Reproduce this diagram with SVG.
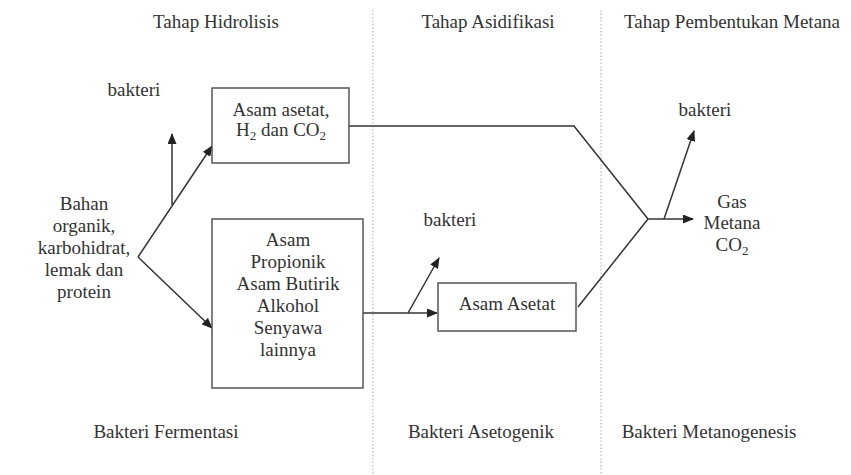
<svg xmlns="http://www.w3.org/2000/svg" width="851" height="475" viewBox="0 0 851 475">
<defs>
<style>
text{font-family:"Liberation Serif","Times New Roman",serif;font-size:19px;fill:#333;text-anchor:middle}
.sub{font-size:13px}
.box{fill:#fff;stroke:#555;stroke-width:1.5}
.ln{fill:none;stroke:#333;stroke-width:1.5}
.div{stroke:#bbb;stroke-width:1.2;stroke-dasharray:1.5 2}
</style>
<marker id="ah" markerUnits="userSpaceOnUse" markerWidth="11" markerHeight="9" refX="10" refY="4.5" orient="auto">
<path d="M0,0 L11,4.5 L0,9 z" fill="#222"/>
</marker>
</defs>
<rect width="851" height="475" fill="#fff"/>
<g id="dividers">
<line class="div" x1="373" y1="10" x2="373" y2="475"/>
<line class="div" x1="601" y1="10" x2="601" y2="475"/>
</g>
<g id="titles">
<text x="216" y="28">Tahap Hidrolisis</text>
<text x="488" y="28">Tahap Asidifikasi</text>
<text x="732" y="28">Tahap Pembentukan Metana</text>
<text x="166" y="438">Bakteri Fermentasi</text>
<text x="481" y="438">Bakteri Asetogenik</text>
<text x="709" y="438">Bakteri Metanogenesis</text>
</g>
<g id="connectors">
<path class="ln" d="M172,205 L172,134" marker-end="url(#ah)"/>
<path class="ln" d="M138,257 L212,146" marker-end="url(#ah)"/>
<path class="ln" d="M138,257 L212,328" marker-end="url(#ah)"/>
<path class="ln" d="M363,313 L437,313" marker-end="url(#ah)"/>
<path class="ln" d="M408,313 L439,258" marker-end="url(#ah)"/>
<path class="ln" d="M349,126 L574,126 L648,219"/>
<path class="ln" d="M578,307 L648,219"/>
<path class="ln" d="M648,219 L693,219" marker-end="url(#ah)"/>
<path class="ln" d="M664,219 L694,131" marker-end="url(#ah)"/>
</g>
<g id="node-bahan">
<text x="84" y="210">Bahan</text>
<text x="84" y="232">organik,</text>
<text x="84" y="254">karbohidrat,</text>
<text x="84" y="276">lemak dan</text>
<text x="84" y="298">protein</text>
</g>
<g id="node-bakteri1"><text x="134" y="96">bakteri</text></g>
<g id="node-asetat-h2">
<rect class="box" x="212" y="88" width="137" height="75"/>
<text x="281" y="116">Asam asetat,</text>
<text x="281" y="136">H<tspan class="sub" dy="4">2</tspan><tspan dy="-4"> dan CO</tspan><tspan class="sub" dy="4">2</tspan></text>
</g>
<g id="node-propionik">
<rect class="box" x="212" y="219" width="151" height="169"/>
<text x="288" y="246">Asam</text>
<text x="288" y="268">Propionik</text>
<text x="288" y="290">Asam Butirik</text>
<text x="288" y="312">Alkohol</text>
<text x="288" y="334">Senyawa</text>
<text x="288" y="356">lainnya</text>
</g>
<g id="node-bakteri2"><text x="450" y="226">bakteri</text></g>
<g id="node-asam-asetat">
<rect class="box" x="438" y="283" width="138" height="48"/>
<text x="507" y="310">Asam Asetat</text>
</g>
<g id="node-bakteri3"><text x="705" y="116">bakteri</text></g>
<g id="node-gas">
<text x="732" y="208">Gas</text>
<text x="732" y="229">Metana</text>
<text x="732" y="251">CO<tspan class="sub" dy="4">2</tspan></text>
</g>
</svg>
